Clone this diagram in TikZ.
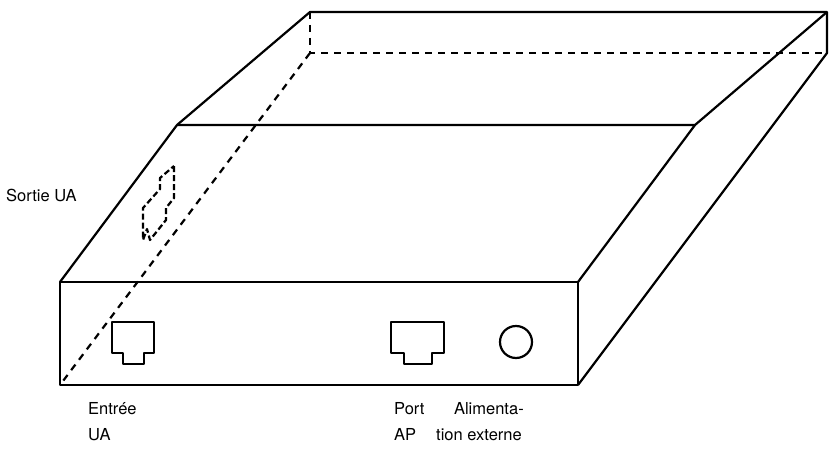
\documentclass[tikz,border=0pt]{standalone}
\usepackage{fontspec}
\setmainfont{TeX Gyre Heros}
\usepackage{tikz}
\usetikzlibrary{positioning}
\tikzset{
  edge/.style={line width=2.2pt, line join=round},
  hidden/.style={edge, dashed, dash pattern=on 7pt off 6pt},
  label/.style={font=\fontsize{16.5}{26}\selectfont, align=left, inner sep=0pt}
}
\begin{document}
\begin{tikzpicture}[x=1pt, y=-1pt]
      \useasboundingbox (0,0) rectangle (837,460);
      % Corners of the box
      \coordinate (fbl) at (60,385);
      \coordinate (fbr) at (578,385);
      \coordinate (ftl) at (60,282);
      \coordinate (ftr) at (578,282);
      \coordinate (ml) at (177,125);
      \coordinate (mr) at (695,125);
      \coordinate (btl) at (310,12);
      \coordinate (btr) at (827,12);
      \coordinate (bbl) at (310,53);
      \coordinate (bbr) at (827,53);

      % Visible edges
      \draw[edge] (ftl) rectangle (fbr);
      \draw[edge] (ftl) -- (ml) -- (mr) -- (ftr);
      \draw[edge] (ml) -- (btl) -- (btr) -- (bbr) -- (fbr);
      \draw[edge] (mr) -- (btr);

      % Hidden edges
      \draw[hidden] (btl) -- (bbl) -- (bbr);
      \draw[hidden] (bbl) -- (fbl);

      % Ports
      \draw[edge] (112,322) -- (154,322) -- (154,353) -- (144,353) -- (144,364)
        -- (123,364) -- (123,353) -- (112,353) -- cycle;
      \draw[edge] (391,322) -- (444,322) -- (444,353) -- (432,353) -- (432,364)
        -- (404,364) -- (404,353) -- (391,353) -- cycle;
      \draw[edge] (516,342) circle (16);
      \draw[hidden, dash pattern=on 6pt off 3pt] (174,166) -- (174,198) -- (166,208) -- (166,220)
        -- (150,240) -- (147,229) -- (143,240) -- (143,208) -- (160,189) -- (160,178) -- cycle;

      % Labels
      \node[label, anchor=west] (sortie) at (6,195) {Sortie UA};
      \node[label, anchor=north west] (entree) at (88,402) {Entrée\\UA};
      \node[label, anchor=north west] (port) at (394,402) {Port\\AP};
      \node[label, anchor=north, align=center] (alim) at (479,402) {\hspace*{1.2em}Alimenta-\\tion externe};
    \end{tikzpicture}
\end{document}
